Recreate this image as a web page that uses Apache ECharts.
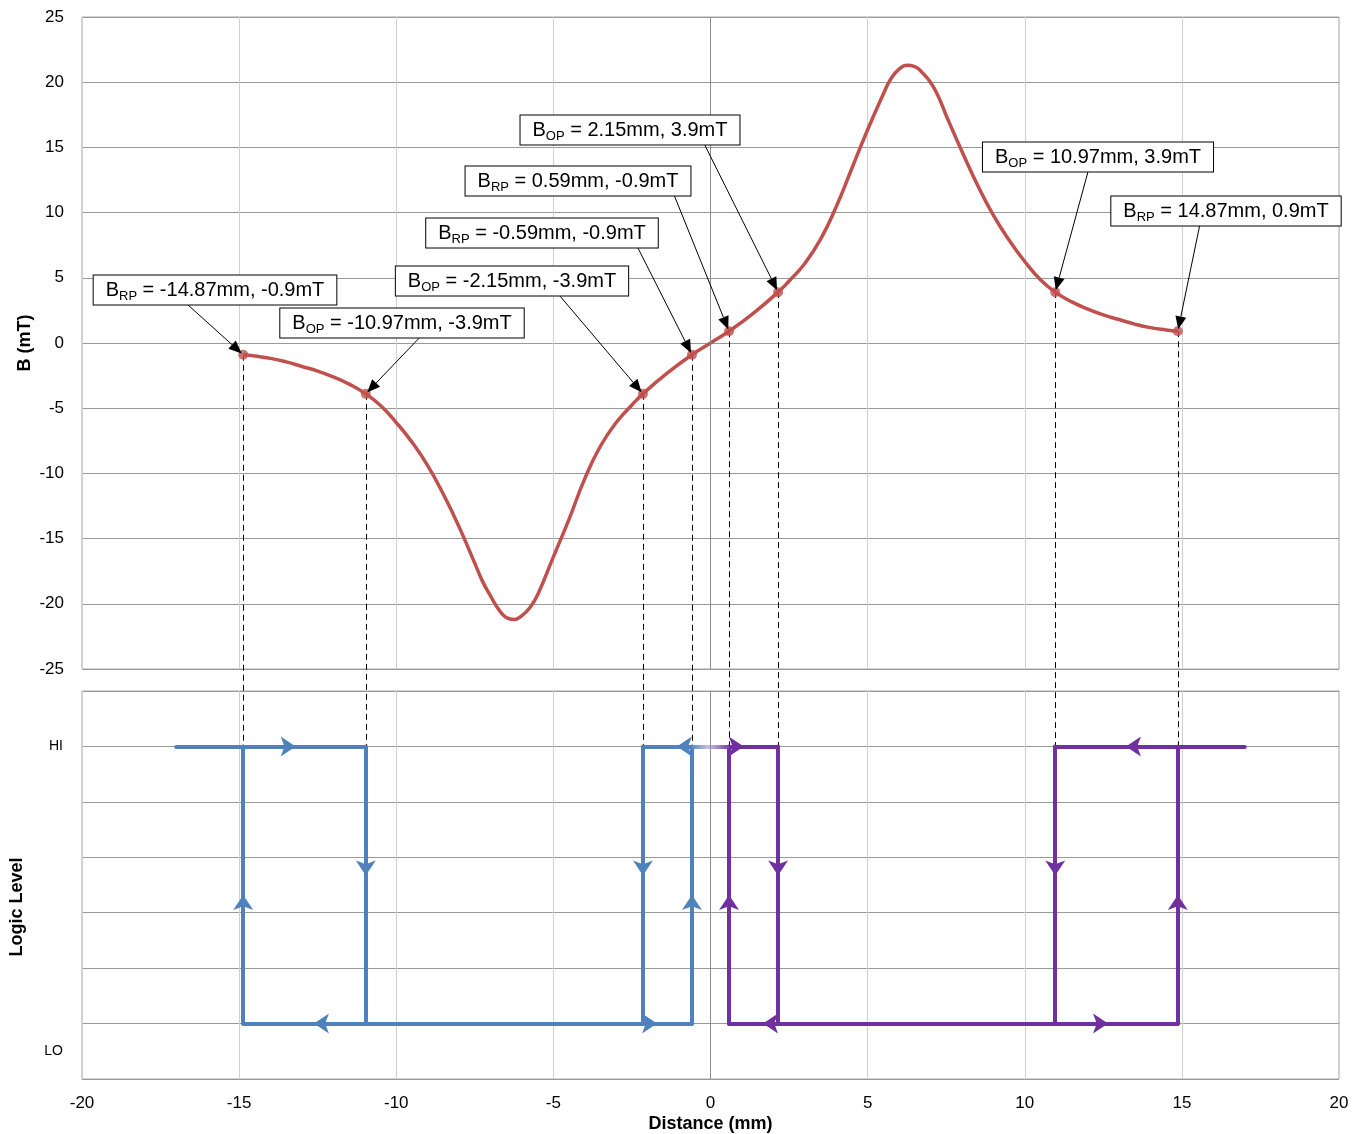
<!DOCTYPE html>
<html>
<head>
<meta charset="utf-8">
<script src="https://cdn.jsdelivr.net/npm/echarts@6/dist/echarts.min.js"></script>
<style>
  html, body { margin: 0; padding: 0; background: #fff; }
  #chart { width: 1361px; height: 1134px; }
</style>
</head>
<body>
<div id="chart"></div>
<script>
// Magnetic flux density along the travel path (mm, mT)
const curveX = [-14.87, -14.5, -14, -13.5, -13, -12.5, -12, -11.5, -10.97, -10.5, -10, -9.5, -9, -8.5, -8, -7.5, -7.25, -7, -6.75, -6.5, -6.25, -6, -5.75, -5.5,
                -5, -4.5, -4, -3.5, -3, -2.5, -2.15, -1.4, -0.59,
                0, 0.59, 1.4, 2.15, 2.5, 3, 3.5, 4, 4.5, 5, 5.5, 5.75, 6, 6.25, 6.5, 6.75, 7, 7.25, 7.5,
                8, 8.5, 9, 9.5, 10, 10.5, 10.97, 11.5, 12, 12.5, 13, 13.5, 14, 14.5, 14.87];
const curveB = [-0.9, -1.0, -1.18, -1.45, -1.8, -2.15, -2.6, -3.15, -3.9, -4.8, -6.1, -7.6, -9.4, -11.6, -14.1, -16.9, -18.3, -19.4, -20.4, -21.05, -21.2, -20.9, -20.3, -19.3,
                -16.4, -13.5, -10.4, -7.9, -6.1, -4.75, -3.9, -2.35, -0.9,
                0, 0.9, 2.35, 3.9, 4.75, 6.1, 7.95, 10.45, 13.4, 16.35, 19.1, 20.3, 21.0, 21.3, 21.2, 20.7, 20.0, 18.9, 17.45,
                14.7, 12.1, 9.8, 7.9, 6.25, 4.85, 3.9, 3.15, 2.6, 2.15, 1.8, 1.45, 1.18, 1.0, 0.9];

// Switching thresholds
const switchX = [-14.87, -10.97, -2.15, -0.59, 0.59, 2.15, 10.97, 14.87];
const switchB = [-0.9, -3.9, -3.9, -0.9, 0.9, 3.9, 3.9, 0.9];
const switchKind = ['RP', 'OP', 'OP', 'RP', 'RP', 'OP', 'OP', 'RP'];
const switchText = [' = -14.87mm, -0.9mT', ' = -10.97mm, -3.9mT', ' = -2.15mm, -3.9mT', ' = -0.59mm, -0.9mT',
                    ' = 0.59mm, -0.9mT', ' = 2.15mm, 3.9mT', ' = 10.97mm, 3.9mT', ' = 14.87mm, 0.9mT'];

// Logic output levels on the lower panel
const HI = 6, LO = 1;
const levelNames = { 6: 'HI', 0.5: 'LO' };

// Output transitions: [x1, y1, x2, y2, arrow position along the edge]
const blueEdges = [
  [-17, HI, -10.97, HI, -13.2],
  [-10.97, HI, -10.97, LO, 3.67],
  [-10.97, LO, -14.87, LO, -12.62],
  [-14.87, LO, -14.87, HI, 3.32],
  [-10.97, LO, -0.59, LO, -1.7],
  [-0.59, LO, -0.59, HI, 3.32],
  [-0.59, HI, -2.15, HI, -1.07],
  [-2.15, HI, -2.15, LO, 3.67]
];
const purpleEdges = [
  [0.59, HI, 2.15, HI, 1.06],
  [2.15, HI, 2.15, LO, 3.67],
  [10.97, LO, 0.59, LO, 1.67],
  [0.59, LO, 0.59, HI, 3.32],
  [2.15, LO, 14.87, LO, 12.65],
  [10.97, HI, 10.97, LO, 3.67],
  [14.87, LO, 14.87, HI, 3.32],
  [17, HI, 10.97, HI, 13.22]
];
const bridgeEdge = [[-0.59, HI], [0.59, HI]];

// Callout placement (data units of the upper panel)
const calloutBox = [[-15.77, 4.10], [-9.82, 1.57], [-6.32, 4.72], [-5.36, 8.40], [-4.22, 12.46], [-2.55, 16.30], [12.33, 14.23], [16.42, 10.16]];
const calloutTail = [[-16.66, 2.99], [-9.24, 0.46], [-4.79, 3.60], [-2.31, 7.29], [-1.16, 11.35], [-0.18, 15.18], [12.01, 13.11], [15.57, 9.05]];

const RED = '#C0504D', BLUE = '#4F81BD', PURPLE = '#7030A0';
const FONT = '"Liberation Sans", Arial, Helvetica, sans-serif';

function splitEdges(edges) {
  const arrowed = [], plain = [];
  edges.forEach(([x1, y1, x2, y2, a]) => {
    const mid = x1 === x2 ? [x1, a] : [a, y1];
    arrowed.push({ coords: [[x1, y1], mid] });
    plain.push({ coords: [mid, [x2, y2]] });
  });
  return { arrowed, plain };
}

function traceSeries(edges, color) {
  const parts = splitEdges(edges);
  const base = {
    type: 'lines', coordinateSystem: 'cartesian2d', xAxisIndex: 1, yAxisIndex: 1,
    polyline: false, silent: true, z: 3,
    lineStyle: { color: color, width: 4, opacity: 1, curveness: 0, cap: 'round' }
  };
  return [
    Object.assign({}, base, { data: parts.plain, symbol: 'none' }),
    Object.assign({}, base, { data: parts.arrowed, symbol: ['none', 'arrow'], symbolSize: 15 })
  ];
}

const chart = echarts.init(document.getElementById('chart'), null, { renderer: 'canvas' });

const gridLeft = 82, gridRight = 22;
const xAxisBase = {
  type: 'value', min: -20, max: 20, interval: 5,
  axisLine: { show: false }, axisTick: { show: false },
  splitLine: { show: true, lineStyle: { color: '#d0d0d0', width: 1 } }
};

const zeroLine = (xi, yi) => ({
  type: 'line', xAxisIndex: xi, yAxisIndex: yi, data: [], z: 1, silent: true,
  markLine: {
    silent: true, symbol: 'none', label: { show: false },
    lineStyle: { color: '#8c8c8c', type: 'solid', width: 1 },
    data: [{ xAxis: 0 }], animation: false
  }
});

const titleStyle = { color: '#000', fontSize: 18, fontWeight: 'bold', fontFamily: FONT };

chart.setOption({
  animation: false,
  backgroundColor: '#fff',
  textStyle: { fontFamily: FONT },
  grid: [
    { left: gridLeft, right: gridRight, top: 17, height: 652, show: true, borderColor: '#a6a6a6', borderWidth: 1 },
    { left: gridLeft, right: gridRight, top: 691, height: 388, show: true, borderColor: '#a6a6a6', borderWidth: 1 }
  ],
  xAxis: [
    Object.assign({}, xAxisBase, { gridIndex: 0, axisLabel: { show: false } }),
    Object.assign({}, xAxisBase, {
      gridIndex: 1,
      axisLabel: { show: true, color: '#000', fontSize: 17, margin: 16, fontFamily: FONT },
      name: 'Distance (mm)', nameLocation: 'middle', nameGap: 36,
      nameTextStyle: titleStyle
    })
  ],
  yAxis: [
    {
      type: 'value', gridIndex: 0, min: -25, max: 25, interval: 5,
      axisLine: { show: false }, axisTick: { show: false },
      axisLabel: { color: '#000', fontSize: 17, margin: 18, fontFamily: FONT },
      splitLine: { lineStyle: { color: '#999', width: 1 } },
      name: 'B (mT)', nameLocation: 'middle', nameGap: 48, nameMoveOverlap: false,
      nameTextStyle: titleStyle
    },
    {
      type: 'value', gridIndex: 1, min: 0, max: 7, interval: 1, position: 'left',
      axisLine: { show: false }, axisTick: { show: false }, axisLabel: { show: false },
      splitLine: { lineStyle: { color: '#999', width: 1 } },
      name: 'Logic Level', nameLocation: 'middle', nameGap: 56, nameMoveOverlap: false,
      nameTextStyle: Object.assign({ padding: [0, 44, 0, 0] }, titleStyle)
    },
    {
      type: 'value', gridIndex: 1, min: 0, max: 7, interval: 0.5, position: 'left', offset: 0,
      axisLine: { show: false }, axisTick: { show: false }, splitLine: { show: false },
      axisLabel: {
        color: '#000', fontSize: 14, margin: 19, fontFamily: FONT,
        formatter: v => levelNames[v] || ''
      }
    }
  ],
  series: [
    zeroLine(0, 0),
    zeroLine(1, 1),
    {
      name: 'B', type: 'line', xAxisIndex: 0, yAxisIndex: 0, z: 4,
      data: curveX.map((x, i) => [x, curveB[i]]),
      smooth: 0.5, showSymbol: false, silent: true,
      lineStyle: { color: RED, width: 3.5 }
    },
    {
      name: 'thresholds', type: 'scatter', xAxisIndex: 0, yAxisIndex: 0, z: 5,
      data: switchX.map((x, i) => [x, switchB[i]]),
      symbol: 'circle', symbolSize: 10, silent: true,
      itemStyle: { color: RED }
    },
    ...traceSeries(blueEdges, BLUE),
    ...traceSeries(purpleEdges, PURPLE),
    {
      type: 'lines', coordinateSystem: 'cartesian2d', xAxisIndex: 1, yAxisIndex: 1,
      polyline: false, silent: true, z: 3, symbol: 'none',
      data: [{ coords: bridgeEdge }],
      lineStyle: {
        width: 4, opacity: 1, curveness: 0,
        color: new echarts.graphic.LinearGradient(0, 0, 1, 0, [
          { offset: 0, color: BLUE },
          { offset: 0.45, color: '#c4c0e2' },
          { offset: 1, color: PURPLE }
        ])
      }
    }
  ]
});

// Dashed drop lines, callout boxes and their leader arrows
const elements = [];
switchX.forEach((x, i) => {
  const top = chart.convertToPixel({ gridIndex: 0 }, [x, switchB[i]]);
  const bottom = chart.convertToPixel({ gridIndex: 1 }, [x, HI]);
  const px = Math.round(top[0]) + 0.5;
  elements.push({
    type: 'line', z: 1, silent: true,
    shape: { x1: px, y1: top[1], x2: px, y2: bottom[1] },
    style: { stroke: '#000', lineWidth: 1, lineDash: [6, 4] }
  });
});

switchX.forEach((x, i) => {
  const tip = chart.convertToPixel({ gridIndex: 0 }, [x, switchB[i]]);
  const tail = chart.convertToPixel({ gridIndex: 0 }, calloutTail[i]);
  const box = chart.convertToPixel({ gridIndex: 0 }, calloutBox[i]);
  const dx = tip[0] - tail[0], dy = tip[1] - tail[1];
  const len = Math.hypot(dx, dy), ux = dx / len, uy = dy / len;
  const end = [tip[0] - ux * 2, tip[1] - uy * 2];
  const headLen = 13, headHalf = 5.5;
  const base = [end[0] - ux * headLen, end[1] - uy * headLen];
  elements.push({
    type: 'line', z: 20, silent: true,
    shape: { x1: tail[0], y1: tail[1], x2: base[0], y2: base[1] },
    style: { stroke: '#000', lineWidth: 1 }
  });
  elements.push({
    type: 'polygon', z: 20, silent: true,
    shape: { points: [end, [base[0] - uy * headHalf, base[1] + ux * headHalf], [base[0] + uy * headHalf, base[1] - ux * headHalf]] },
    style: { fill: '#000' }
  });
  elements.push({
    type: 'text', z: 30, silent: true, x: Math.round(box[0]), y: Math.round(box[1]),
    style: {
      text: '{m|B}{s|' + switchKind[i] + '}{m|' + switchText[i] + '}',
      align: 'center', verticalAlign: 'middle',
      backgroundColor: '#fff', borderColor: '#000', borderWidth: 1,
      padding: [3, 12, 2, 12],
      rich: {
        m: { fontSize: 20, fontFamily: FONT, fill: '#000', color: '#000', lineHeight: 24 },
        s: { fontSize: 13, fontFamily: FONT, fill: '#000', color: '#000', lineHeight: 12, verticalAlign: 'bottom' }
      }
    }
  });
});

chart.setOption({ graphic: { elements: elements } });
</script>
</body>
</html>
